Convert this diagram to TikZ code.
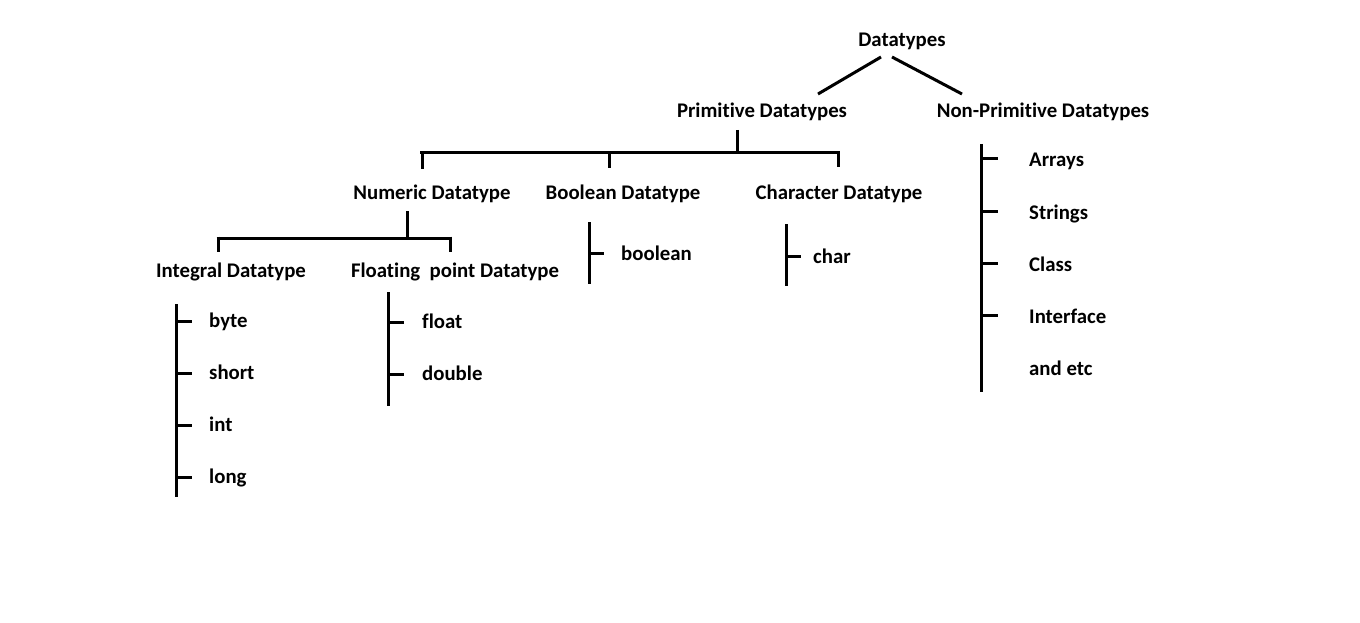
\documentclass[tikz,border=0pt]{standalone}
\usepackage{fontspec}
\setmainfont[Ligatures={NoCommon}]{Carlito}
\begin{document}
\begin{tikzpicture}[x=1pt,y=-1pt,
  lbl/.style={font=\bfseries\fontsize{20.8}{22}\selectfont, inner sep=0pt, text height=14pt, text depth=4pt, yshift=-2pt},
  item/.style={lbl, anchor=west},
  ln/.style={line width=3pt, line cap=butt}]
\path[use as bounding box, fill=white] (0,0) rectangle (1360,623);
% titles
\node[lbl] (dt) at (902,40) {Datatypes};
\node[lbl] (prim) at (762,111) {Primitive Datatypes};
\node[lbl] (nonprim) at (1043,111) {Non-Primitive Datatypes};
\node[lbl] (num) at (432,192) {Numeric Datatype};
\node[lbl] (bool) at (623,192) {Boolean Datatype};
\node[lbl] (chr) at (839,192) {Character Datatype};
\node[lbl] (integ) at (231,270) {Integral Datatype};
\node[lbl] (flt) at (455,270) {Floating\ \ point Datatype};
% items
\node[item] (boolean) at (621,253) {boolean};
\node[item] (char) at (813,256) {char};
\node[item] (byte) at (209,320.5) {byte};
\node[item] (short) at (209,372.5) {short};
\node[item] (int) at (209,424.5) {int};
\node[item] (long) at (209,476.5) {long};
\node[item] (float) at (422,321.5) {float};
\node[item] (double) at (422,373.5) {double};
\node[item] (arr) at (1029,160) {Arrays};
\node[item] (str) at (1029,212) {Strings};
\node[item] (cls) at (1029,264) {Class};
\node[item] (intf) at (1029,316) {Interface};
\node[item] (etc) at (1029,368) {and etc};
% root branches
\coordinate (r1) at (881,57); \coordinate (r2) at (818,94);
\coordinate (r3) at (892,57); \coordinate (r4) at (962,94);
\draw[ln] (r1) -- (r2);
\draw[ln] (r3) -- (r4);
% primitive bracket
\coordinate (p0) at (737,130); \coordinate (p1) at (737,153);
\coordinate (pl) at (420,153); \coordinate (pr) at (839.5,153);
\draw[ln] (p0) -- (p1);
\draw[ln] (pl) -- (pr);
\draw[ln] (422,151.5) -- (422,169);
\draw[ln] (609,151.5) -- (609,168);
\draw[ln] (838,151.5) -- (838,167);
% numeric bracket
\draw[ln] (407,211) -- (407,238);
\draw[ln] (216.5,238) -- (451.5,238);
\draw[ln] (218,236.5) -- (218,252);
\draw[ln] (450,236.5) -- (450,252);
% boolean
\draw[ln] (589,222) -- (589,284);
\draw[ln] (589,253) -- (604,253);
% char
\draw[ln] (786,224) -- (786,286);
\draw[ln] (786,256) -- (801,256);
% integral
\draw[ln] (176,304) -- (176,497);
\foreach \yy in {321,373,425,477} \draw[ln] (176,\yy) -- (192,\yy);
% floating
\draw[ln] (388,292) -- (388,406);
\foreach \yy in {322,374} \draw[ln] (388,\yy) -- (404,\yy);
% non-primitive
\draw[ln] (981,144) -- (981,392);
\foreach \yy in {159,211,263,315} \draw[ln] (981,\yy) -- (998,\yy);
\end{tikzpicture}
\end{document}
